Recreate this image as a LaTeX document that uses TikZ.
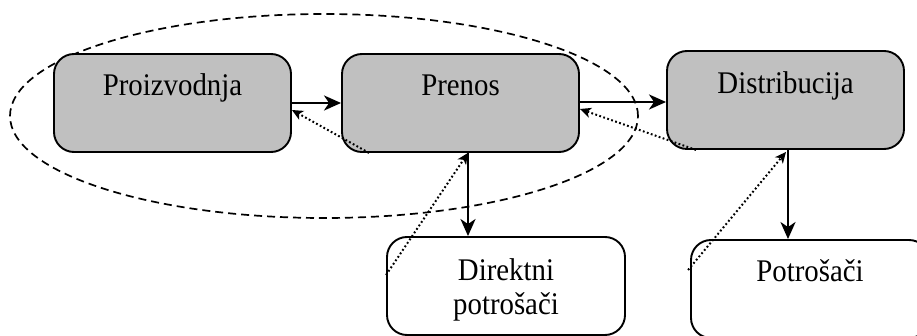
\documentclass[tikz,border=0pt]{standalone}
\usepackage{graphicx}
\usepackage{fontspec}
\setmainfont{Liberation Serif}
\usetikzlibrary{arrows.meta,shapes.geometric}
\definecolor{boxgray}{RGB}{192,192,192}
% slightly condensed lettering
\newcommand\narrowtxt[1]{\scalebox{0.915}[1]{#1}}
\begin{document}
\begin{tikzpicture}[x=1pt,y=-1pt,
  txt/.style={font=\fontsize{31.5}{34}\selectfont},
  box/.style={draw, line width=1.9pt, rounded corners=20pt,
    minimum width=237pt, minimum height=98pt, inner sep=0pt},
  stage/.style={box, fill=boxgray},
  consumer/.style={box, fill=white, minimum width=238pt},
  caption/.style={txt, inner sep=0pt, text height=22pt, text depth=7pt},
  group/.style={draw, ellipse, dash pattern=on 8pt off 5pt, line width=1.7pt,
    minimum width=628pt, minimum height=204pt, inner sep=0pt},
  flow/.style={line width=2.5pt, -{Stealth[length=17pt,width=15pt,inset=5pt]}},
  feedback/.style={line width=2pt, dash pattern=on 1.8pt off 2.4pt,
    -{Stealth[length=11pt,width=10pt,inset=3pt]}}
]
\useasboundingbox (0,0) rectangle (917,336);
\clip (0,0) rectangle (917,336);

% grouping of production and transmission
\node[group] (grp) at (324,116) {};

% stages of the chain
\node[stage, label={[caption, yshift=14.5pt]center:\narrowtxt{Proizvodnja}}] (proiz) at (172.5,103) {};
\node[stage, label={[caption, yshift=14.5pt]center:\narrowtxt{Prenos}}] (prenos) at (460.5,103) {};
\node[stage, label={[caption, yshift=13.5pt]center:\narrowtxt{Distribucija}}] (distr) at (785.5,100) {};

% consumers
\node[consumer, label={[txt, align=center, inner sep=0pt, yshift=-3.6pt]center:\narrowtxt{Direktni}\\\narrowtxt{potrošači}}] (direkt) at (506,286) {};
\node[consumer, label={[caption, yshift=14.5pt]center:\narrowtxt{Potrošači}}] (potr) at (810,289) {};

% energy flow
\draw[flow] (proiz.east) -- (prenos.west);
\draw[flow] ([yshift=1pt]prenos.east) -- ([yshift=1pt]prenos.east -| distr.west);
\draw[flow] ([xshift=7.5pt]prenos.south) -- ([xshift=7.5pt]prenos.south |- direkt.north);
\draw[flow] ([xshift=2.5pt]distr.south) -- ([xshift=2.5pt]distr.south |- potr.north);

% feedback paths
\draw[feedback] ([xshift=28pt]prenos.south west) -- ([yshift=-7pt]proiz.east);
\draw[feedback] ([xshift=30pt]distr.south west) -- ([yshift=-6pt]prenos.east);
\draw[feedback] ([yshift=11pt]direkt.west) -- ([xshift=7.5pt]prenos.south);
\draw[feedback] ([yshift=19pt,xshift=-2pt]potr.west) -- ([xshift=0.5pt,yshift=-2pt]distr.south);
\end{tikzpicture}
\end{document}
